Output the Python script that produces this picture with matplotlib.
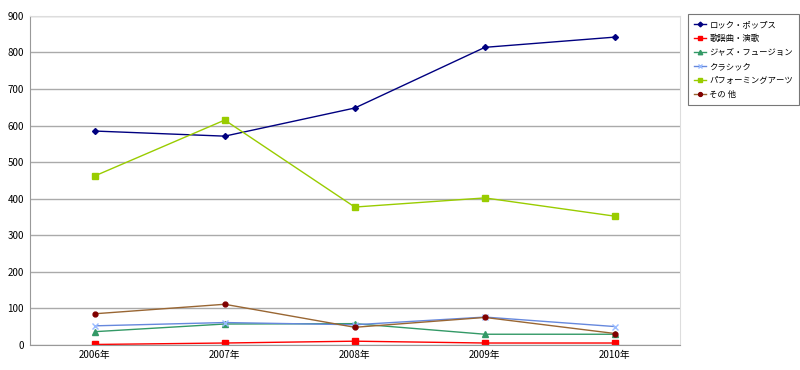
import matplotlib
matplotlib.use("Agg")
import matplotlib.pyplot as plt

plt.rcParams['font.family'] = ['Noto Sans CJK JP', 'DejaVu Sans']

years = ['2006年', '2007年', '2008年', '2009年', '2010年']
rock = [585, 571, 648, 814, 842]
kayo = [1, 5, 10, 5, 5]
jazz = [36, 57, 58, 29, 29]
classic = [52, 61, 55, 76, 50]
perform = [462, 615, 377, 402, 352]
other = [85, 111, 48, 75, 31]

names = ['ロック・ポップス', '歌謡曲・演歌', 'ジャズ・フュージョン', 'クラシック',
         'パフォーミングアーツ', 'その 他']

fig = plt.figure(figsize=(8, 3.7), dpi=100)
ax = fig.add_axes([0.037, 0.068, 0.813, 0.889])

x = range(len(years))
ax.plot(x, rock, color='#000080', marker='D', ms=3, lw=1, label=names[0])
ax.plot(x, kayo, color='#FF0000', marker='s', ms=4, lw=1, label=names[1])
ax.plot(x, jazz, color='#339966', marker='^', ms=4, lw=1, label=names[2])
ax.plot(x, classic, color='#6688DD', marker='x', ms=4, lw=1, mec='#99BBFF', label=names[3])
ax.plot(x, perform, color='#99CC00', marker='s', ms=4, lw=1, label=names[4])
ax.plot(x, other, color='#996633', marker='o', ms=3.5, lw=1, mfc='#800000', mec='#800000', label=names[5])

ax.set_xlim(-0.5, 4.5)
ax.set_ylim(0, 900)
ax.set_yticks(range(0, 901, 100))
ax.set_xticks(list(x))
ax.set_xticklabels(years)
ax.tick_params(labelsize=7, length=0, pad=4)
ax.yaxis.grid(True, color='#AAAAAA', lw=1)
ax.set_axisbelow(True)
for s in ['top', 'right']:
    ax.spines[s].set_color('#DDDDDD')
for s in ['left', 'bottom']:
    ax.spines[s].set_color('#999999')

leg = ax.legend(loc='upper left', bbox_to_anchor=(1.013, 1.005), fontsize=6,
                frameon=True, fancybox=False, handlelength=1.4, handletextpad=0.4,
                borderpad=0.7, labelspacing=0.6, borderaxespad=0, markerscale=0.8)
leg.get_frame().set_edgecolor('#555555')
leg.get_frame().set_linewidth(0.8)

fig.savefig('out.png', dpi=100)
